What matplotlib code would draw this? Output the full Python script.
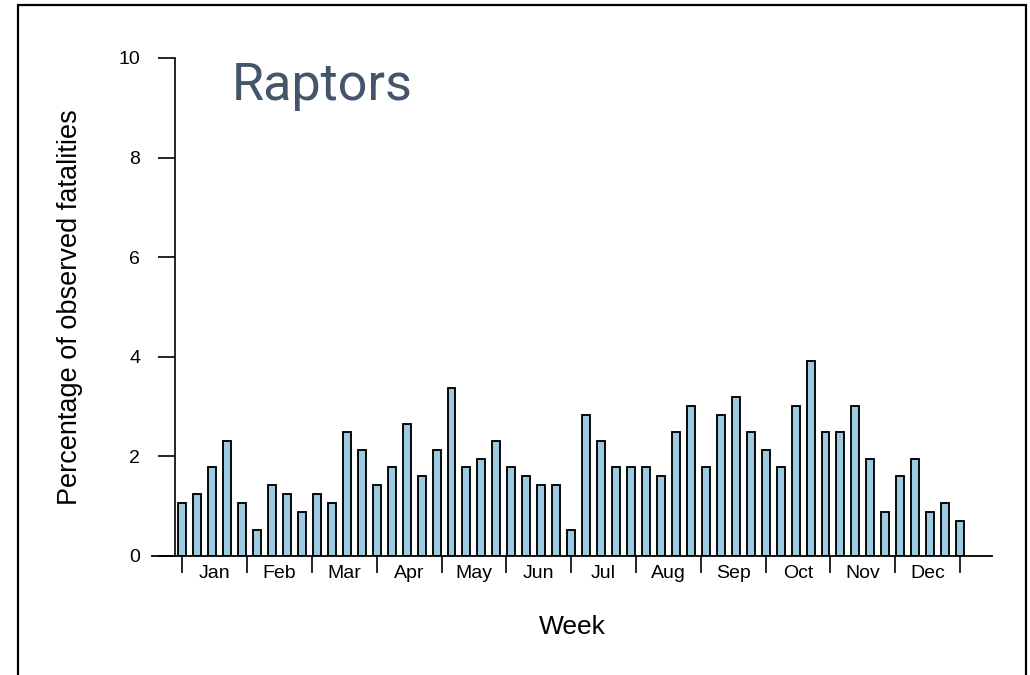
import matplotlib
matplotlib.use("Agg")
import matplotlib.pyplot as plt
from matplotlib.patches import Rectangle
import numpy as np

plt.rcParams['font.family'] = ['Liberation Sans', 'DejaVu Sans']

# Weekly share of observed raptor fatalities (%), weeks 1-53
weekly_pct = [1.07, 1.24, 1.78, 2.31, 1.07, 0.53, 1.42, 1.24, 0.89, 1.24,
              1.07, 2.49, 2.13, 1.42, 1.78, 2.66, 1.60, 2.13, 3.37, 1.78,
              1.95, 2.31, 1.78, 1.60, 1.42, 1.42, 0.53, 2.84, 2.31, 1.78,
              1.78, 1.78, 1.60, 2.49, 3.02, 1.78, 2.84, 3.20, 2.49, 2.13,
              1.78, 3.02, 3.91, 2.49, 2.49, 3.02, 1.95, 0.89, 1.60, 1.95,
              0.89, 1.07, 0.71]
months = ['Jan', 'Feb', 'Mar', 'Apr', 'May', 'Jun',
          'Jul', 'Aug', 'Sep', 'Oct', 'Nov', 'Dec']
y_ticks = [0, 2, 4, 6, 8, 10]

W, H = 1030, 675
fig = plt.figure(figsize=(W / 100, H / 100), dpi=100)
fig.patch.set_facecolor('white')

# frame around the panel
fig.patches.append(Rectangle((17.5 / W, -0.05), (1025.5 - 17.5) / W, (H - 4.5) / H + 0.05,
                             transform=fig.transFigure, fill=False,
                             edgecolor='black', linewidth=1.6))

ax = fig.add_axes([152 / W, (H - 556) / H, 840 / W, 498 / H])
x = np.arange(len(weekly_pct))
ax.bar(x, weekly_pct, width=0.53, color='#9ecae1', edgecolor='black', linewidth=1.35)

ax.set_xlim(-2.02, 54.13)
ax.set_ylim(0, 10)

for s in ('top', 'right', 'bottom'):
    ax.spines[s].set_visible(False)
ax.spines['left'].set_position(('data', -0.48))
ax.spines['left'].set_bounds(0, 10)
ax.spines['left'].set_linewidth(1.2)
ax.axhline(0, color='black', linewidth=1.3, clip_on=False)

ax.set_yticks(y_ticks)
ax.set_yticklabels([str(v) for v in y_ticks])
ax.tick_params(axis='y', length=12.2, width=1.2, pad=13, labelsize=14)

# month boundaries as ticks, month names centred between them
n_weeks = len(weekly_pct)
bounds = np.linspace(0, n_weeks - 1, len(months) + 1)
mids = (bounds[:-1] + bounds[1:]) / 2
ax.set_xticks(bounds)
ax.set_xticklabels([''] * len(bounds))
ax.set_xticks(mids, minor=True)
ax.set_xticklabels(months, minor=True)
ax.tick_params(axis='x', which='major', length=12.2, width=1.2, direction='out')
ax.tick_params(axis='x', which='minor', length=0, pad=6.3, labelsize=14)

fig.text(70 / W, 1 - 307 / H, 'Percentage of observed fatalities', rotation=90,
         ha='center', va='center', fontsize=19.5)
fig.text(572 / W, 1 - 627 / H, 'Week', ha='center', va='center', fontsize=19)
fig.text(232 / W, 1 - 100 / H, 'Raptors', ha='left', va='baseline',
         fontsize=37.5, family=['Roboto', 'DejaVu Sans'], color='#44546A')

fig.savefig('out.png', dpi=100)
